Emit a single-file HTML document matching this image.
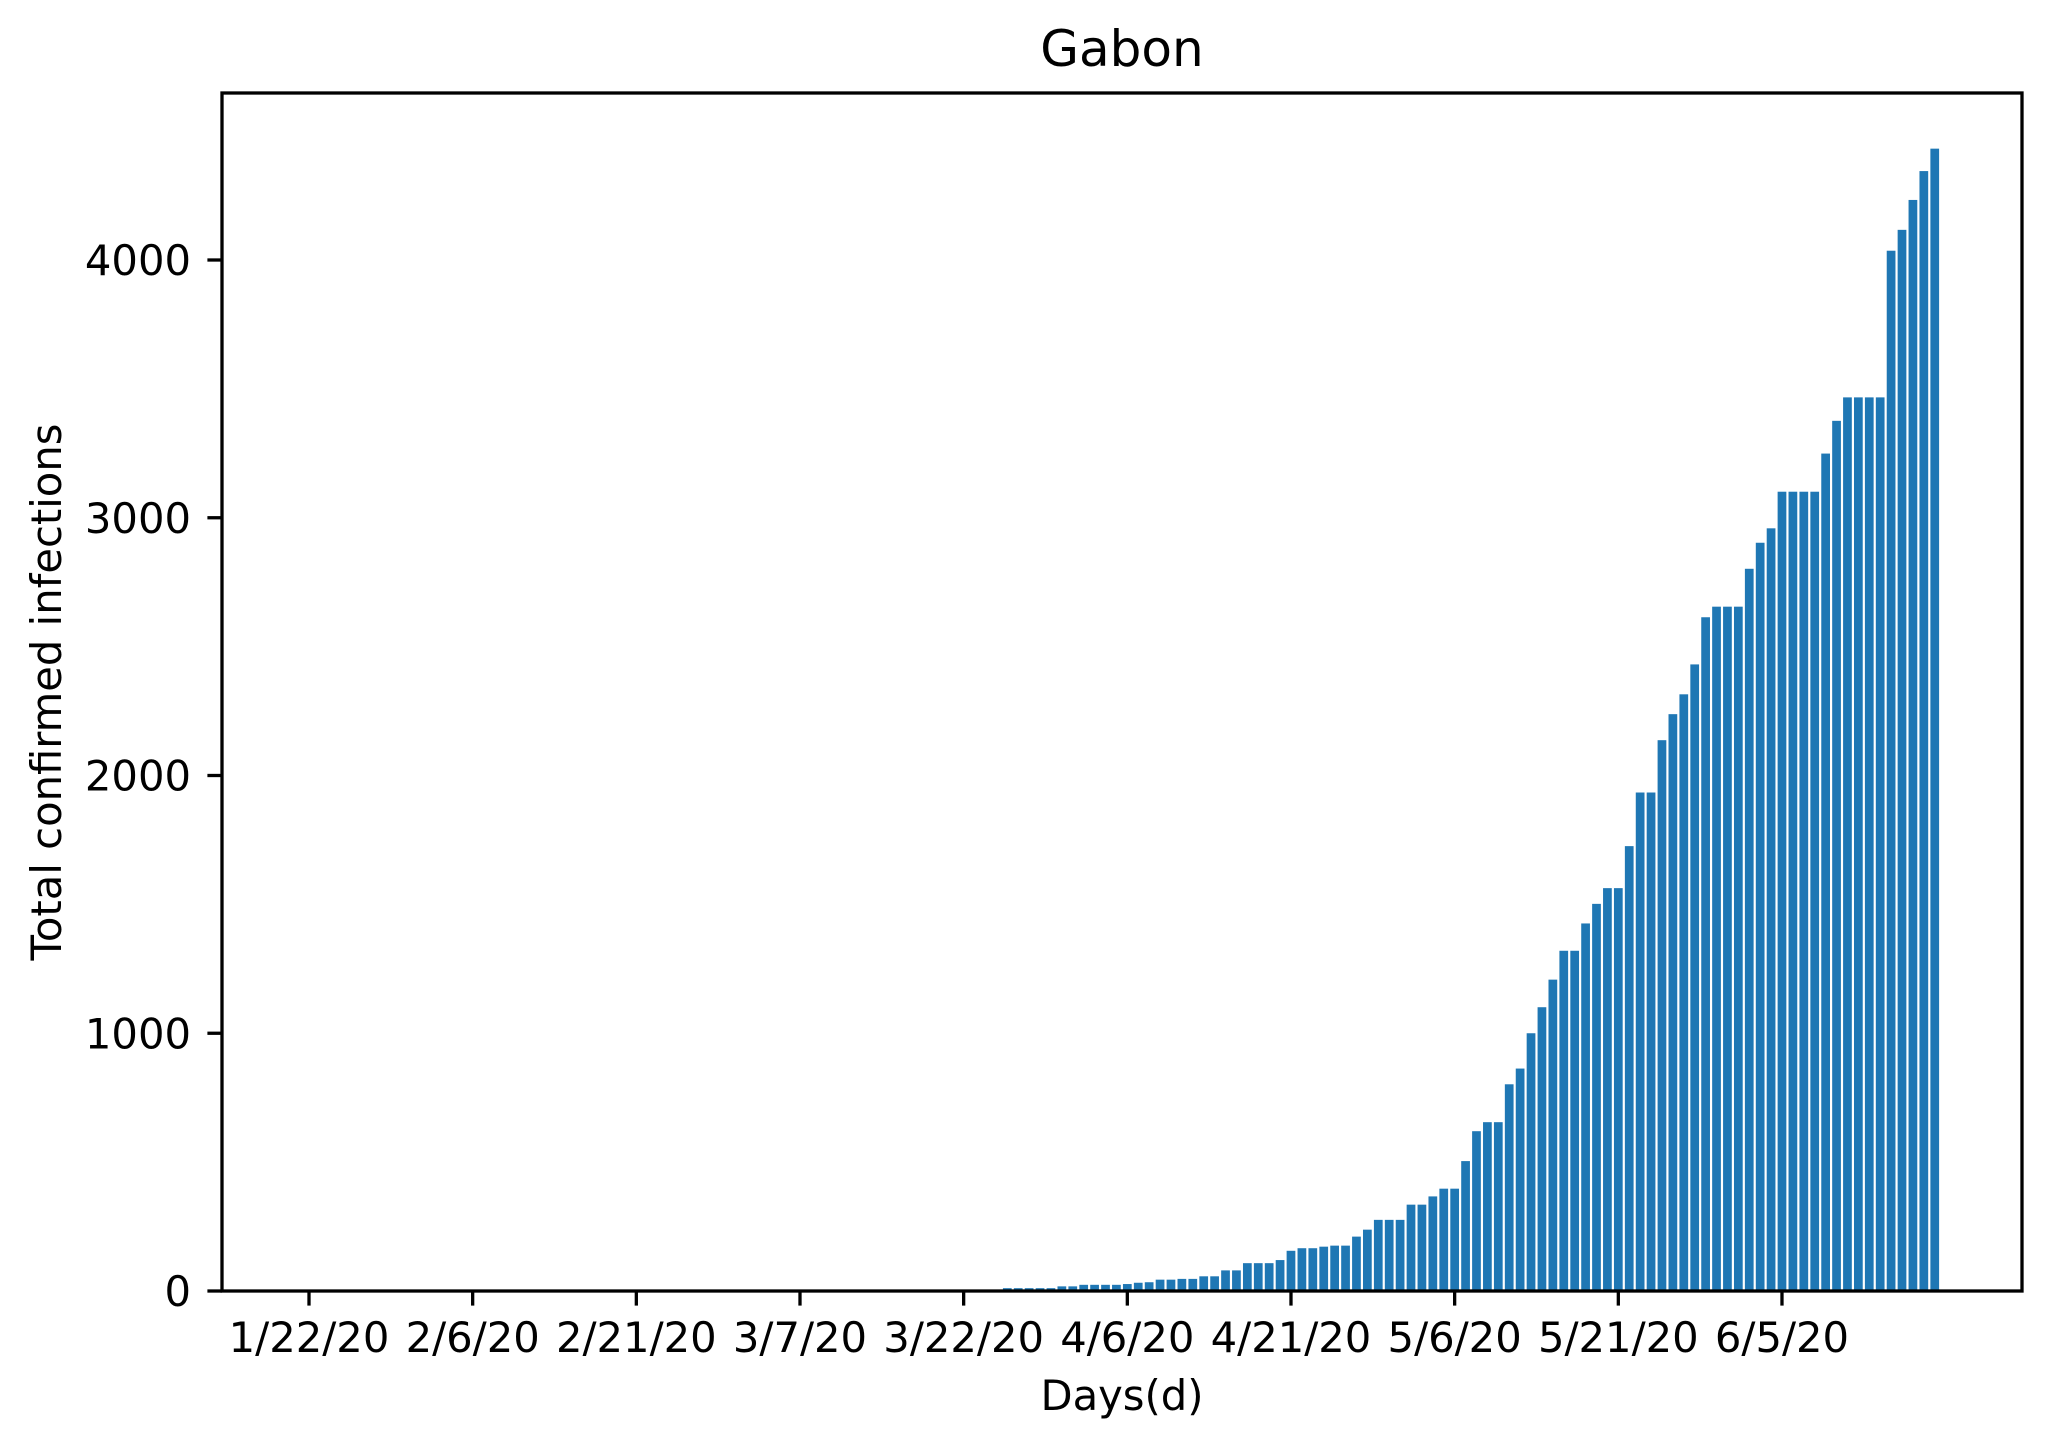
<!DOCTYPE html>
<html><head><meta charset="utf-8"><style>
html,body{margin:0;padding:0;background:#fff;}
svg{display:block;font-family:"DejaVu Sans","Liberation Sans",sans-serif;}
</style></head><body>
<svg id="chart" width="2051" height="1448" viewBox="0 0 2051 1448" xmlns="http://www.w3.org/2000/svg">
<rect width="2051" height="1448" fill="#fff"/>
<text x="1122" y="66" font-size="50" text-anchor="middle">Gabon</text>
<g id="bars"></g>
<g id="xticks"></g>
<g id="yticks"></g>
<rect x="222" y="93" width="1800" height="1198" fill="none" stroke="#000" stroke-width="3.3"/>
<text x="1122" y="1410" font-size="41.7" text-anchor="middle">Days(d)</text>
<text x="0" y="0" font-size="41.7" text-anchor="middle" transform="translate(61,692) rotate(-90)">Total confirmed infections</text>
</svg>
<script>
const startIndex = 64;
const values = [11,11,11,11,11,18,18,24,24,24,24,27,32,34,44,44,47,47,57,57,80,80,108,108,108,120,156,166,166,172,176,176,211,238,276,276,276,335,335,367,397,397,504,620,655,655,802,863,1000,1101,1208,1320,1320,1426,1502,1563,1563,1726,1934,1934,2137,2238,2315,2431,2614,2655,2655,2655,2802,2903,2959,3101,3101,3101,3101,3249,3376,3467,3467,3467,3467,4036,4117,4233,4345,4432];
const xTickIdx = [0,15,30,45,60,75,90,105,120,135];
const xTickLabels = ["1/22/20","2/6/20","2/21/20","3/7/20","3/22/20","4/6/20","4/21/20","5/6/20","5/21/20","6/5/20"];
const yTicks = [0,1000,2000,3000,4000];

const NS = "http://www.w3.org/2000/svg";
function xs(d){ return 309 + d * 10.911; }
function ys(v){ return 1291 - v * 0.25775; }
const bw = 0.8 * 10.911;

const bars = document.getElementById('bars');
values.forEach((v, i) => {
  const d = startIndex + i;
  const r = document.createElementNS(NS, 'rect');
  r.setAttribute('x', xs(d) - bw/2);
  r.setAttribute('y', ys(v));
  r.setAttribute('width', bw);
  r.setAttribute('height', Math.max(0, ys(0) - ys(v)));
  r.setAttribute('fill', '#1f77b4');
  
  
  bars.appendChild(r);
});

const xg = document.getElementById('xticks');
xTickIdx.forEach((d, i) => {
  const l = document.createElementNS(NS, 'line');
  l.setAttribute('x1', xs(d)); l.setAttribute('x2', xs(d));
  l.setAttribute('y1', 1291); l.setAttribute('y2', 1305.6);
  l.setAttribute('stroke', '#000'); l.setAttribute('stroke-width', 3.3);
  
  
  xg.appendChild(l);
  const t = document.createElementNS(NS, 'text');
  t.setAttribute('x', xs(d)); t.setAttribute('y', 1352);
  t.setAttribute('font-size', 41.7); t.setAttribute('text-anchor', 'middle');
  t.textContent = xTickLabels[i];
  
  
  xg.appendChild(t);
});

const yg = document.getElementById('yticks');
yTicks.forEach(v => {
  const l = document.createElementNS(NS, 'line');
  l.setAttribute('x1', 207.4); l.setAttribute('x2', 222);
  l.setAttribute('y1', ys(v)); l.setAttribute('y2', ys(v));
  l.setAttribute('stroke', '#000'); l.setAttribute('stroke-width', 3.3);
  
  
  yg.appendChild(l);
  const t = document.createElementNS(NS, 'text');
  t.setAttribute('x', 191); t.setAttribute('y', ys(v) + 15);
  t.setAttribute('font-size', 41.7); t.setAttribute('text-anchor', 'end');
  t.textContent = String(v);
  
  
  yg.appendChild(t);
});
</script>
</body></html>
